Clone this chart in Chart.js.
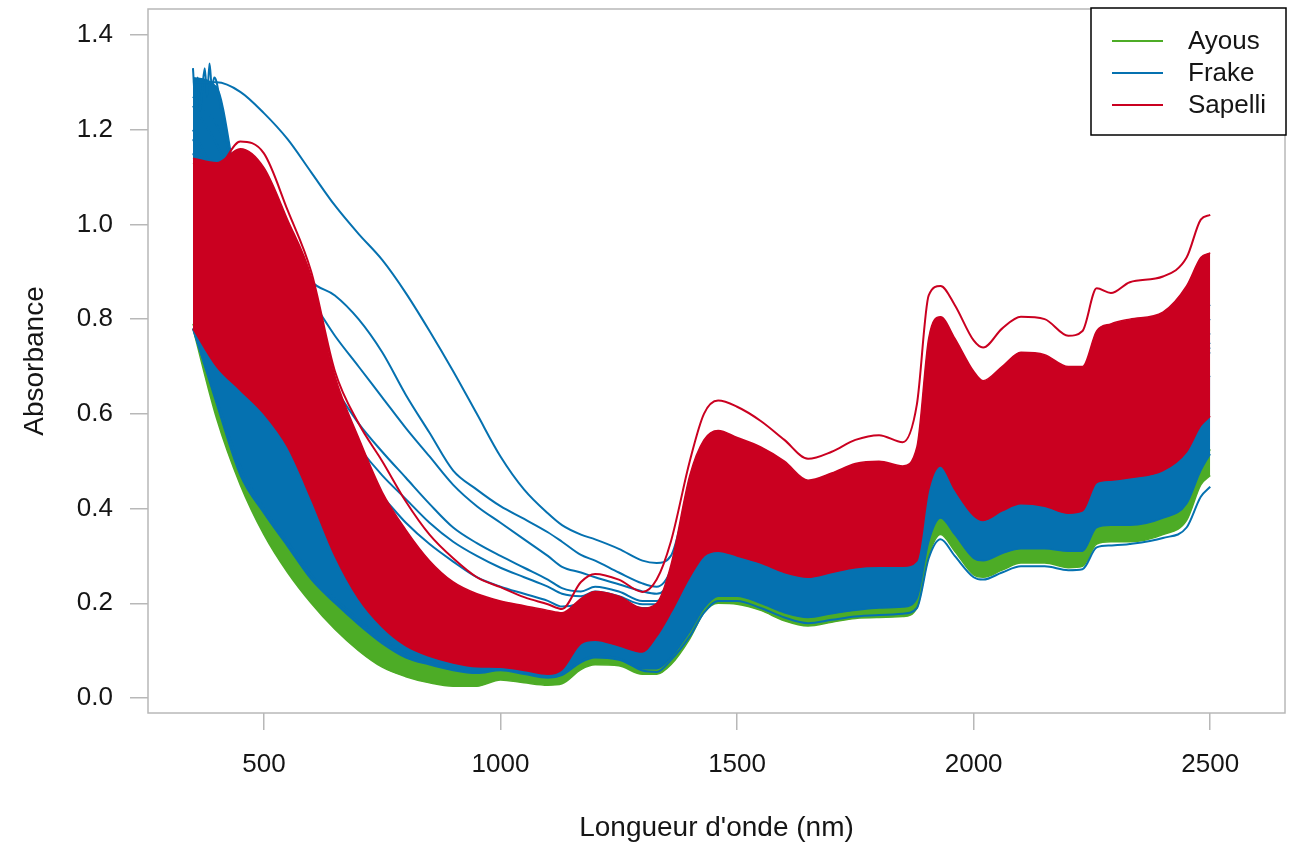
<!DOCTYPE html>
<html>
<head>
<meta charset="utf-8">
<script src="https://cdn.jsdelivr.net/npm/chart.js@4.4.1/dist/chart.umd.min.js"></script>
<style>
  html, body { margin: 0; padding: 0; background: #fff; }
  canvas { display: block; }
</style>
</head>
<body>
<canvas id="spectra" width="1299" height="845"></canvas>
<script>
// wavelength grid (nm) shared by every spectrum
const wavelengths = [
  350, 400, 450, 500, 550, 600, 650, 700, 750, 800,
  850, 900, 950, 1000, 1050, 1100, 1130, 1170, 1200, 1250,
  1300, 1330, 1360, 1400, 1430, 1460, 1500, 1550, 1600, 1650,
  1700, 1750, 1800, 1850, 1880, 1905, 1930, 1960, 2000, 2020,
  2060, 2100, 2150, 2200, 2230, 2260, 2290, 2330, 2400, 2450,
  2480, 2500
];

// Ayous: envelope of the green bundle
const ayousHigh = [
  0.79, 0.63, 0.49, 0.40, 0.33, 0.26, 0.21, 0.165, 0.125, 0.095,
  0.078, 0.065, 0.06, 0.065, 0.058, 0.05, 0.055, 0.085, 0.095, 0.09,
  0.07, 0.07, 0.095, 0.15, 0.20, 0.225, 0.225, 0.21, 0.19, 0.18,
  0.188, 0.195, 0.20, 0.202, 0.22, 0.34, 0.39, 0.355, 0.305, 0.30,
  0.315, 0.325, 0.325, 0.32, 0.32, 0.37, 0.375, 0.375, 0.39, 0.42,
  0.49, 0.525
];
const ayousLow = [
  0.78, 0.59, 0.45, 0.345, 0.265, 0.20, 0.145, 0.10, 0.065, 0.045,
  0.032, 0.025, 0.025, 0.038, 0.032, 0.027, 0.03, 0.06, 0.07, 0.068,
  0.05, 0.05, 0.07, 0.125, 0.18, 0.20, 0.198, 0.185, 0.163, 0.152,
  0.16, 0.168, 0.17, 0.172, 0.19, 0.30, 0.345, 0.31, 0.26, 0.255,
  0.27, 0.285, 0.285, 0.275, 0.278, 0.325, 0.33, 0.33, 0.345, 0.375,
  0.45, 0.47
];

// Frake: envelope of the blue bundle
const frakeHigh = [
  1.31, 1.29, 1.05, 0.95, 0.85, 0.75, 0.62, 0.50, 0.40, 0.33,
  0.27, 0.22, 0.19, 0.175, 0.165, 0.155, 0.15, 0.185, 0.20, 0.19,
  0.17, 0.18, 0.24, 0.40, 0.45, 0.465, 0.455, 0.435, 0.405, 0.375,
  0.385, 0.395, 0.40, 0.395, 0.43, 0.56, 0.59, 0.55, 0.48, 0.47,
  0.49, 0.51, 0.51, 0.49, 0.495, 0.56, 0.57, 0.575, 0.585, 0.63,
  0.67, 0.68
];
const frakeLow = [
  0.78, 0.62, 0.47, 0.39, 0.32, 0.25, 0.20, 0.155, 0.115, 0.085,
  0.07, 0.058, 0.052, 0.058, 0.05, 0.042, 0.048, 0.075, 0.085, 0.08,
  0.062, 0.062, 0.085, 0.14, 0.19, 0.215, 0.215, 0.20, 0.18, 0.17,
  0.178, 0.185, 0.19, 0.192, 0.21, 0.33, 0.38, 0.345, 0.295, 0.29,
  0.305, 0.315, 0.315, 0.31, 0.31, 0.36, 0.365, 0.365, 0.38, 0.41,
  0.48, 0.515
];
// noisy start of the Frake spectra (finer wavelength steps)
const uvWavelengths = [350, 355, 360, 365, 370, 375, 380, 385, 390, 395, 400, 410, 420, 430];
const frakeNoise = [1.33, 1.26, 1.31, 1.24, 1.29, 1.33, 1.27, 1.34, 1.29, 1.31, 1.30, 1.24, 1.18, 1.12];

// single Frake spectra standing out from the bundle
const frakeLowest = [
  0.78, 0.63, 0.49, 0.40, 0.33, 0.26, 0.21, 0.165, 0.125, 0.095,
  0.078, 0.065, 0.058, 0.062, 0.055, 0.045, 0.05, 0.078, 0.088, 0.083,
  0.058, 0.055, 0.08, 0.13, 0.18, 0.205, 0.205, 0.19, 0.17, 0.158,
  0.165, 0.172, 0.175, 0.178, 0.19, 0.295, 0.335, 0.30, 0.255, 0.25,
  0.265, 0.278, 0.278, 0.27, 0.272, 0.318, 0.322, 0.325, 0.338, 0.36,
  0.425, 0.446
];
const frake1 = [
  1.30, 1.30, 1.28, 1.235, 1.18, 1.11, 1.04, 0.98, 0.925, 0.855,
  0.775, 0.69, 0.60, 0.51, 0.44, 0.39, 0.365, 0.345, 0.335, 0.315,
  0.29, 0.285, 0.30, 0.44, 0.50, 0.52, 0.51, 0.49, 0.46, 0.43,
  0.44, 0.45, 0.46, 0.45, 0.48, 0.66, 0.70, 0.66, 0.59, 0.58,
  0.61, 0.63, 0.63, 0.61, 0.61, 0.68, 0.69, 0.70, 0.71, 0.76,
  0.82, 0.83
];
const frake2 = [
  1.27, 1.21, 1.10, 1.03, 0.96, 0.88, 0.85, 0.80, 0.73, 0.64,
  0.56, 0.48, 0.44, 0.405, 0.378, 0.35, 0.33, 0.302, 0.29, 0.265,
  0.242, 0.235, 0.27, 0.42, 0.48, 0.50, 0.49, 0.47, 0.44, 0.41,
  0.42, 0.43, 0.44, 0.43, 0.46, 0.63, 0.67, 0.63, 0.56, 0.55,
  0.58, 0.60, 0.60, 0.58, 0.58, 0.65, 0.66, 0.67, 0.68, 0.73,
  0.79, 0.80
];
const frake3 = [
  1.25, 1.17, 1.06, 0.98, 0.90, 0.84, 0.765, 0.70, 0.635, 0.57,
  0.51, 0.45, 0.405, 0.37, 0.335, 0.30, 0.277, 0.265, 0.255, 0.24,
  0.225, 0.22, 0.25, 0.40, 0.46, 0.48, 0.47, 0.45, 0.42, 0.39,
  0.40, 0.41, 0.42, 0.41, 0.44, 0.60, 0.64, 0.60, 0.53, 0.52,
  0.55, 0.57, 0.57, 0.55, 0.55, 0.62, 0.63, 0.64, 0.65, 0.70,
  0.76, 0.77
];
const frake4 = [
  1.20, 1.10, 0.98, 0.90, 0.82, 0.74, 0.655, 0.58, 0.52, 0.465,
  0.41, 0.36, 0.327, 0.30, 0.275, 0.25, 0.232, 0.225, 0.235, 0.225,
  0.205, 0.205, 0.24, 0.38, 0.44, 0.46, 0.45, 0.43, 0.40, 0.37,
  0.38, 0.39, 0.40, 0.39, 0.42, 0.58, 0.62, 0.58, 0.51, 0.50,
  0.53, 0.55, 0.55, 0.53, 0.53, 0.60, 0.61, 0.62, 0.63, 0.68,
  0.74, 0.75
];
const frake5 = [
  1.15, 1.05, 0.92, 0.82, 0.72, 0.62, 0.53, 0.47, 0.425, 0.37,
  0.325, 0.288, 0.255, 0.235, 0.22, 0.205, 0.193, 0.20, 0.215, 0.205,
  0.19, 0.19, 0.23, 0.36, 0.42, 0.44, 0.43, 0.41, 0.38, 0.35,
  0.36, 0.37, 0.38, 0.37, 0.40, 0.56, 0.60, 0.56, 0.49, 0.48,
  0.51, 0.53, 0.53, 0.51, 0.51, 0.58, 0.59, 0.60, 0.61, 0.66,
  0.72, 0.73
];
const frake6 = [
  1.18, 1.08, 0.95, 0.86, 0.77, 0.68, 0.60, 0.53, 0.47, 0.42,
  0.37, 0.33, 0.30, 0.275, 0.255, 0.235, 0.22, 0.215, 0.225, 0.215,
  0.198, 0.198, 0.235, 0.37, 0.43, 0.45, 0.44, 0.42, 0.39, 0.36,
  0.37, 0.38, 0.39, 0.38, 0.41, 0.57, 0.61, 0.57, 0.50, 0.49,
  0.52, 0.54, 0.54, 0.52, 0.52, 0.59, 0.60, 0.61, 0.62, 0.67,
  0.73, 0.74
];

// Sapelli: envelope of the red bundle plus its highest spectrum
const sapelliHigh = [
  1.14, 1.13, 1.16, 1.12, 1.01, 0.89, 0.68, 0.55, 0.435, 0.355,
  0.29, 0.245, 0.22, 0.205, 0.195, 0.185, 0.18, 0.21, 0.225, 0.215,
  0.19, 0.20, 0.28, 0.47, 0.545, 0.565, 0.55, 0.53, 0.50, 0.46,
  0.475, 0.495, 0.50, 0.49, 0.53, 0.76, 0.805, 0.76, 0.69, 0.67,
  0.70, 0.73, 0.725, 0.70, 0.70, 0.775, 0.79, 0.80, 0.815, 0.87,
  0.93, 0.94
];
const sapelliLow = [
  0.78, 0.70, 0.65, 0.60, 0.53, 0.42, 0.30, 0.21, 0.15, 0.11,
  0.088, 0.074, 0.066, 0.065, 0.058, 0.05, 0.06, 0.115, 0.122, 0.11,
  0.097, 0.13, 0.18, 0.255, 0.30, 0.31, 0.30, 0.285, 0.265, 0.255,
  0.265, 0.275, 0.278, 0.278, 0.29, 0.44, 0.49, 0.44, 0.385, 0.375,
  0.395, 0.41, 0.405, 0.39, 0.395, 0.455, 0.46, 0.465, 0.48, 0.52,
  0.575, 0.595
];
const sapelliTop = [
  1.13, 1.12, 1.175, 1.15, 1.03, 0.90, 0.69, 0.58, 0.50, 0.415,
  0.345, 0.295, 0.255, 0.234, 0.213, 0.198, 0.188, 0.245, 0.262, 0.25,
  0.224, 0.25, 0.33, 0.50, 0.60, 0.628, 0.615, 0.585, 0.545, 0.505,
  0.52, 0.545, 0.555, 0.54, 0.62, 0.85, 0.87, 0.83, 0.755, 0.74,
  0.78, 0.805, 0.80, 0.765, 0.775, 0.865, 0.855, 0.878, 0.89, 0.93,
  1.01, 1.02
];

const species = ["Ayous", "Frake", "Sapelli"];
const speciesColors = ["#4dac26", "#0571b0", "#ca0020"];
const xTicks = [500, 1000, 1500, 2000, 2500];
const yTicks = [0, 0.2, 0.4, 0.6, 0.8, 1.0, 1.2, 1.4];

const FONT = "'Liberation Sans', Arial, sans-serif";
const INK = "#151515";

function points(values, xs) {
  xs = xs || wavelengths;
  return xs.map((w, i) => ({ x: w, y: values[i] }));
}

function band(k, upper, lower, order) {
  const c = speciesColors[k];
  return [
    { label: species[k], data: points(upper), borderColor: c, borderWidth: 1.5, order: order },
    { label: species[k], data: points(lower), borderColor: c, backgroundColor: c, borderWidth: 1.5, fill: "-1", order: order }
  ];
}

function curve(k, values, order, xs) {
  return { label: species[k], data: points(values, xs), borderColor: speciesColors[k], borderWidth: 2, order: order };
}

const datasets = [].concat(
  band(0, ayousHigh, ayousLow, 10),
  band(1, frakeHigh, frakeLow, 9),
  [
    curve(1, frakeNoise, 8, uvWavelengths),
    curve(1, frakeLowest, 8),
    curve(1, frake1, 7), curve(1, frake2, 7), curve(1, frake3, 7),
    curve(1, frake4, 7), curve(1, frake5, 7), curve(1, frake6, 7)
  ],
  band(2, sapelliHigh, sapelliLow, 5),
  [curve(2, sapelliTop, 4)]
);

// grey frame round the plot region, like base R's box()
const frame = {
  id: "frame",
  afterDraw(chart) {
    const a = chart.chartArea;
    const ctx = chart.ctx;
    ctx.save();
    ctx.strokeStyle = "#b8b8b8";
    ctx.lineWidth = 1.5;
    ctx.strokeRect(a.left, a.top, a.right - a.left, a.bottom - a.top);
    ctx.restore();
  }
};

// boxed legend in the top-right corner
const boxLegend = {
  id: "boxLegend",
  afterDraw(chart) {
    const a = chart.chartArea;
    const ctx = chart.ctx;
    const w = 195, h = 127;
    const left = a.right - w + 1, top = a.top - 1;
    ctx.save();
    ctx.fillStyle = "#fff";
    ctx.fillRect(left, top, w, h);
    ctx.strokeStyle = "#000";
    ctx.lineWidth = 1.5;
    ctx.strokeRect(left, top, w, h);
    ctx.font = "26px " + FONT;
    ctx.textBaseline = "middle";
    species.forEach((name, i) => {
      const y = top + 33 + i * 32;
      ctx.strokeStyle = speciesColors[i];
      ctx.lineWidth = 2;
      ctx.beginPath();
      ctx.moveTo(left + 21, y);
      ctx.lineTo(left + 72, y);
      ctx.stroke();
      ctx.fillStyle = INK;
      ctx.fillText(name, left + 97, y + 1);
    });
    ctx.restore();
  }
};

new Chart(document.getElementById("spectra").getContext("2d"), {
  type: "line",
  data: { datasets },
  plugins: [frame, boxLegend],
  options: {
    responsive: false,
    animation: false,
    devicePixelRatio: 1,
    layout: { padding: { top: 9, right: 14, left: 0, bottom: 0 } },
    elements: {
      point: { radius: 0 },
      line: { cubicInterpolationMode: "monotone", fill: false }
    },
    plugins: {
      legend: { display: false },
      tooltip: { enabled: false }
    },
    scales: {
      x: {
        type: "linear",
        min: 255,
        max: 2658,
        afterFit: s => { s.height = 132; s.paddingLeft = 0; s.paddingRight = 0; },
        afterBuildTicks: s => { s.ticks = xTicks.map(v => ({ value: v })); },
        grid: { drawOnChartArea: false, tickLength: 17, color: "#b8b8b8", lineWidth: 1.5 },
        border: { display: false },
        ticks: {
          padding: 19, autoSkip: false, maxRotation: 0, color: INK,
          font: { family: FONT, size: 26 },
          callback: v => String(v)
        },
        title: {
          display: true, text: "Longueur d'onde (nm)", color: INK,
          font: { family: FONT, size: 28 }, padding: { top: 0, bottom: 0 }
        }
      },
      y: {
        min: -0.0317,
        max: 1.4549,
        afterFit: s => { s.width = 148; s.paddingTop = 0; s.paddingBottom = 0; },
        afterBuildTicks: s => { s.ticks = yTicks.map(v => ({ value: v })); },
        grid: { drawOnChartArea: false, tickLength: 18, color: "#b8b8b8", lineWidth: 1.5 },
        border: { display: false },
        ticks: {
          padding: 17, autoSkip: false, color: INK,
          font: { family: FONT, size: 26 },
          callback: v => v.toFixed(1)
        },
        title: {
          display: true, text: "Absorbance", color: INK,
          font: { family: FONT, size: 28 }, padding: { top: 18, bottom: 0 }
        }
      }
    }
  }
});
</script>
</body>
</html>
